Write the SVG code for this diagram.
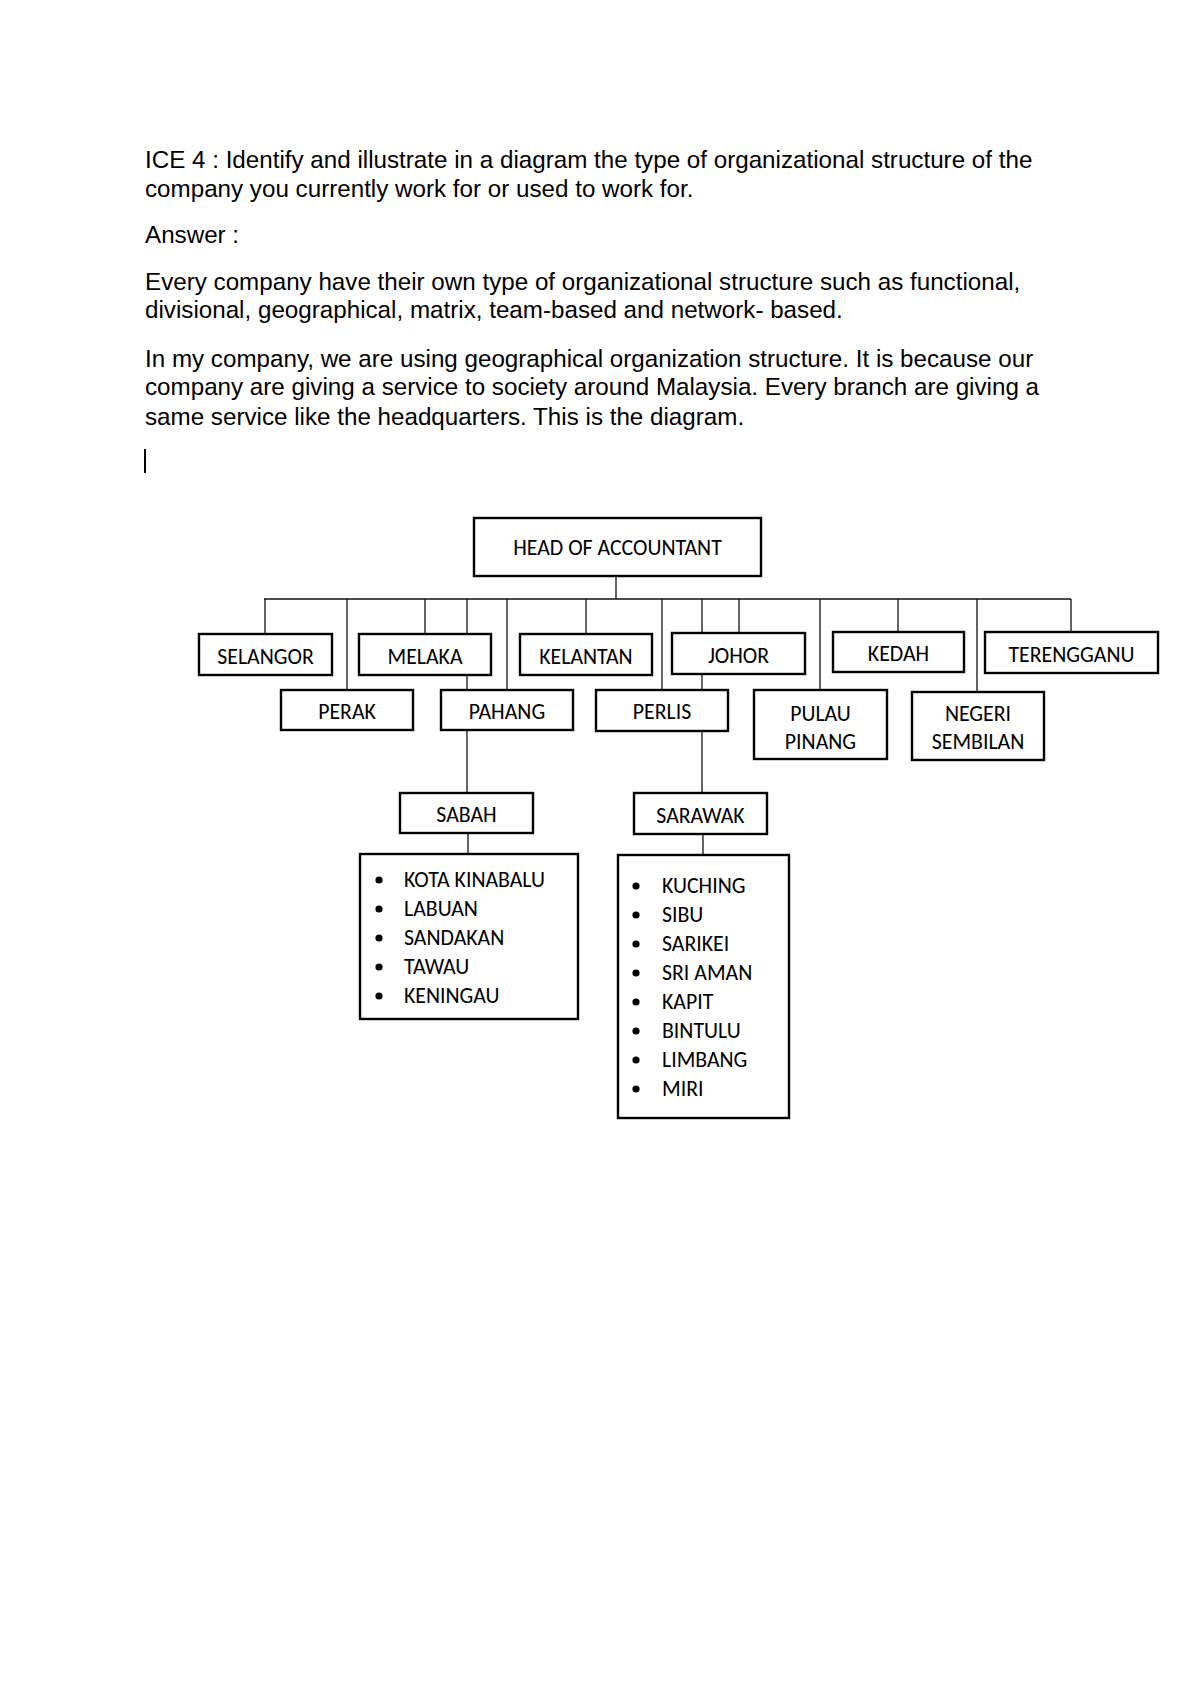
<svg xmlns="http://www.w3.org/2000/svg" width="1200" height="1698" viewBox="0 0 1200 1698">
<style>
.p{font-family:"Liberation Sans",Arial,sans-serif;font-size:24.2px;fill:#000}
.b{fill:#fff;stroke:#000;stroke-width:2.4}
.t{font-family:Carlito,Lato,"Open Sans",sans-serif;font-size:21.8px;fill:#000;text-anchor:middle}
.l{font-family:Carlito,Lato,"Open Sans",sans-serif;font-size:21.8px;fill:#000}
.c{stroke:#111;stroke-width:1.3;fill:none}
</style>
<rect width="1200" height="1698" fill="#fff"/>
<g id="intro">
<text class="p" x="145" y="168">ICE 4 : Identify and illustrate in a diagram the type of organizational structure of the</text>
<text class="p" x="145" y="197">company you currently work for or used to work for.</text>
<text class="p" x="145" y="243">Answer :</text>
<text class="p" x="145" y="290">Every company have their own type of organizational structure such as functional,</text>
<text class="p" x="145" y="318">divisional, geographical, matrix, team-based and network- based.</text>
<text class="p" x="145" y="367">In my company, we are using geographical organization structure. It is because our</text>
<text class="p" x="145" y="395">company are giving a service to society around Malaysia. Every branch are giving a</text>
<text class="p" x="145" y="425">same service like the headquarters. This is the diagram.</text>
<line x1="145" y1="449" x2="145" y2="473" stroke="#000" stroke-width="2"/>
</g>
<g id="connectors" class="c">
<line x1="616" y1="576" x2="616" y2="599"/>
<line x1="264" y1="599" x2="1071" y2="599"/>
<line x1="265" y1="599" x2="265" y2="634"/>
<line x1="347" y1="599" x2="347" y2="690"/>
<line x1="425" y1="599" x2="425" y2="634"/>
<line x1="467" y1="599" x2="467" y2="634"/>
<line x1="467" y1="675" x2="467" y2="690"/>
<line x1="467" y1="730" x2="467" y2="793"/>
<line x1="507" y1="599" x2="507" y2="690"/>
<line x1="586" y1="599" x2="586" y2="634"/>
<line x1="662" y1="599" x2="662" y2="690"/>
<line x1="702" y1="599" x2="702" y2="633"/>
<line x1="702" y1="674" x2="702" y2="690"/>
<line x1="702" y1="731" x2="702" y2="793"/>
<line x1="739" y1="599" x2="739" y2="633"/>
<line x1="820" y1="599" x2="820" y2="690"/>
<line x1="898" y1="599" x2="898" y2="632"/>
<line x1="977" y1="599" x2="977" y2="692"/>
<line x1="1071" y1="599" x2="1071" y2="632"/>
<line x1="468" y1="833" x2="468" y2="854"/>
<line x1="703" y1="834" x2="703" y2="855"/>
</g>
<g id="head"><rect class="b" x="474" y="518" width="287" height="58"/><text class="t" x="617.5" y="555">HEAD OF ACCOUNTANT</text></g>
<g id="selangor"><rect class="b" x="199" y="634" width="133" height="41"/><text class="t" x="265.5" y="664">SELANGOR</text></g>
<g id="melaka"><rect class="b" x="359" y="634" width="132" height="41"/><text class="t" x="425" y="664">MELAKA</text></g>
<g id="kelantan"><rect class="b" x="520" y="634" width="132" height="41"/><text class="t" x="586" y="664">KELANTAN</text></g>
<g id="johor"><rect class="b" x="672" y="633" width="133" height="41"/><text class="t" x="738.5" y="663">JOHOR</text></g>
<g id="kedah"><rect class="b" x="833" y="632" width="131" height="40"/><text class="t" x="898.5" y="661">KEDAH</text></g>
<g id="terengganu"><rect class="b" x="985" y="632" width="173" height="41"/><text class="t" x="1071.5" y="662">TERENGGANU</text></g>
<g id="perak"><rect class="b" x="281" y="690" width="132" height="40"/><text class="t" x="347" y="719">PERAK</text></g>
<g id="pahang"><rect class="b" x="441" y="690" width="132" height="40"/><text class="t" x="507" y="719">PAHANG</text></g>
<g id="perlis"><rect class="b" x="596" y="690" width="132" height="41"/><text class="t" x="662" y="719">PERLIS</text></g>
<g id="pulau-pinang"><rect class="b" x="754" y="690" width="133" height="69"/><text class="t" x="820.5" y="721">PULAU</text><text class="t" x="820.5" y="749">PINANG</text></g>
<g id="negeri-sembilan"><rect class="b" x="912" y="692" width="132" height="68"/><text class="t" x="978" y="721">NEGERI</text><text class="t" x="978" y="749">SEMBILAN</text></g>
<g id="sabah"><rect class="b" x="400" y="793" width="133" height="40"/><text class="t" x="466.5" y="822">SABAH</text></g>
<g id="sarawak"><rect class="b" x="634" y="793" width="133" height="41"/><text class="t" x="700.5" y="823">SARAWAK</text></g>
<g id="sabah-list">
<rect class="b" x="360" y="854" width="218" height="165"/>
<g fill="#000"><circle cx="379" cy="880" r="3.6"/><circle cx="379" cy="909" r="3.6"/><circle cx="379" cy="938" r="3.6"/><circle cx="379" cy="967" r="3.6"/><circle cx="379" cy="996" r="3.6"/></g>
<text class="l" x="404" y="887">KOTA KINABALU</text>
<text class="l" x="404" y="916">LABUAN</text>
<text class="l" x="404" y="945">SANDAKAN</text>
<text class="l" x="404" y="974">TAWAU</text>
<text class="l" x="404" y="1003">KENINGAU</text>
</g>
<g id="sarawak-list">
<rect class="b" x="618" y="855" width="171" height="263"/>
<g fill="#000"><circle cx="636" cy="886" r="3.6"/><circle cx="636" cy="915" r="3.6"/><circle cx="636" cy="944" r="3.6"/><circle cx="636" cy="973" r="3.6"/><circle cx="636" cy="1002" r="3.6"/><circle cx="636" cy="1031" r="3.6"/><circle cx="636" cy="1060" r="3.6"/><circle cx="636" cy="1089" r="3.6"/></g>
<text class="l" x="662" y="893">KUCHING</text>
<text class="l" x="662" y="922">SIBU</text>
<text class="l" x="662" y="951">SARIKEI</text>
<text class="l" x="662" y="980">SRI AMAN</text>
<text class="l" x="662" y="1009">KAPIT</text>
<text class="l" x="662" y="1038">BINTULU</text>
<text class="l" x="662" y="1067">LIMBANG</text>
<text class="l" x="662" y="1096">MIRI</text>
</g>
</svg>
